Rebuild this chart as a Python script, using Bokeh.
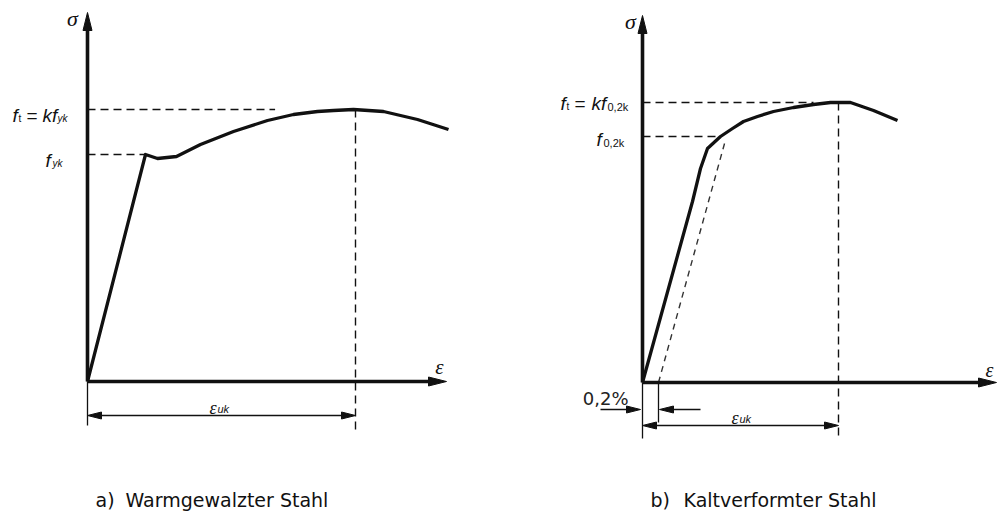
from math import hypot

from bokeh.core.properties import value
from bokeh.embed import file_html
from bokeh.layouts import row
from bokeh.models import Range1d
from bokeh.plotting import figure
from bokeh.resources import INLINE

# ---------------------------------------------------------------
# Schematic stress–strain diagrams of reinforcing steel
# (strain ε horizontal, stress σ vertical, schematic units)
# ---------------------------------------------------------------

# a) hot-rolled steel: elastic line, yield plateau, hardening, necking
eps_a = [0, 58, 70, 89, 113, 146, 180, 206, 230, 246, 266, 296, 330, 361]
sig_a = [0, 227, 223, 225, 237, 250, 261, 267, 270, 271, 272, 270, 262, 252]
f_yk_a = 227      # characteristic yield strength
f_t_a = 272       # tensile strength f_t = k f_yk
eps_uk_a = 268    # strain at maximum load

# b) cold-worked steel: no distinct yield point, 0.2 % proof stress
eps_b = [0, 50, 58, 65, 78, 90, 101, 115, 131, 151, 171, 188, 208, 231, 255]
sig_b = [0, 181, 214, 234, 246, 254, 261, 266, 271, 275, 278, 280, 280, 272, 262]
f_02k_b = 246     # 0.2 % proof stress
f_t_b = 280       # tensile strength f_t = k f_0,2k
eps_uk_b = 196    # strain at maximum load
eps_off_b = 16    # 0.2 % permanent strain offset

captions = [("a)", "Warmgewalzter Stahl"), ("b)", "Kaltverformter Stahl")]

INK = "#111111"
SANS = "DejaVu Sans"
ITAL = "Liberation Sans"
SERIF = "Liberation Serif"
H = 517


def panel(width, x_left, y_top):
    p = figure(width=width, height=H,
               x_range=Range1d(x_left, x_left + width),
               y_range=Range1d(y_top - H, y_top),
               output_backend="svg", toolbar_location=None,
               x_axis_location=None, y_axis_location=None,
               min_border=0)
    p.xgrid.visible = False
    p.ygrid.visible = False
    p.outline_line_color = None
    p.background_fill_color = "white"
    p.border_fill_color = "white"
    return p


def head(p, x0, y0, x1, y1, hl, hw, color=INK):
    """Filled triangular arrow head with its tip at (x1, y1)."""
    dx, dy = x1 - x0, y1 - y0
    n = hypot(dx, dy)
    ux, uy = dx / n, dy / n
    nx, ny = -uy, ux
    bx, by = x1 - ux * hl, y1 - uy * hl
    p.patch([x1, bx + nx * hw / 2, bx - nx * hw / 2],
            [y1, by + ny * hw / 2, by - ny * hw / 2],
            fill_color=color, line_color=color, line_width=1)


def arrow(p, x0, y0, x1, y1, lw, hl, hw, both=False, color=INK):
    dx, dy = x1 - x0, y1 - y0
    n = hypot(dx, dy)
    ux, uy = dx / n, dy / n
    sx0 = x0 + ux * hl * 0.6 if both else x0
    sy0 = y0 + uy * hl * 0.6 if both else y0
    p.line([sx0, x1 - ux * hl * 0.6], [sy0, y1 - uy * hl * 0.6],
           line_width=lw, line_color=color)
    head(p, x0, y0, x1, y1, hl, hw, color)
    if both:
        head(p, x1, y1, x0, y0, hl, hw, color)


def put(p, x, y, txt, size, font=SANS, style="normal", align="left",
        baseline="alphabetic", color=INK):
    p.text(x=[x], y=[y], text=[txt], text_font=value(font),
           text_font_size=value(f"{size}px"), text_font_style=style,
           text_align=align, text_baseline=baseline, text_color=color)


# ---------------- a) Warmgewalzter Stahl ----------------
pa = panel(500, -87, 381)

# horizontal guides to f_t and f_yk, vertical guide at ε_uk
pa.line([0, 0.7 * eps_uk_a], [f_t_a, f_t_a], line_color=INK,
        line_width=1.4, line_dash="8 5")
pa.line([0, eps_a[1]], [f_yk_a, f_yk_a], line_color=INK,
        line_width=1.4, line_dash="8 5")
pa.line([eps_uk_a, eps_uk_a], [f_t_a, -49], line_color=INK,
        line_width=1.4, line_dash="8 5")

# stress–strain curve
pa.line(eps_a, sig_a, line_color=INK, line_width=3.3, line_join="round")

# axes
arrow(pa, 0, 0, 0, 369, 3.6, 18, 9)
arrow(pa, 0, 0, 359, 0, 3.6, 18, 9)
put(pa, -15, 363, "σ", 22, SERIF, "italic", "center", "middle")
put(pa, 352, 15, "ε", 21, SERIF, "italic", "center", "middle")

# ε_uk dimension
pa.line([0, 0], [0, -44], line_color=INK, line_width=1.3)
arrow(pa, 0, -34, eps_uk_a, -34, 1.6, 14, 7, both=True)
put(pa, 122, -26, "ε", 18, SERIF, "italic")
put(pa, 130, -27, "uk", 11, ITAL, "italic")

# stress labels
put(pa, -75, 266, "f", 19, ITAL, "italic")
put(pa, -69, 263, "t", 10, ITAL)
put(pa, -61, 266, "=", 19, ITAL)
put(pa, -45, 266, "kf", 19, ITAL, "italic")
put(pa, -30, 263, "yk", 10, ITAL, "italic")
put(pa, -42, 221, "f", 19, ITAL, "italic")
put(pa, -35, 218, "yk", 10, ITAL, "italic")

# caption
put(pa, 8, -118, captions[0][0], 19, SANS)
put(pa, 38, -118, captions[0][1], 19, SANS)

# ---------------- b) Kaltverformter Stahl ----------------
pb = panel(497, -142, 382)

pb.line([0, eps_b[10]], [f_t_b, f_t_b], line_color=INK,
        line_width=1.4, line_dash="8 5")
pb.line([0, eps_b[4]], [f_02k_b, f_02k_b], line_color=INK,
        line_width=1.4, line_dash="8 5")
pb.line([eps_uk_b, eps_uk_b], [f_t_b, -53], line_color=INK,
        line_width=1.4, line_dash="8 5")

# 0.2 % offset line, parallel to the elastic branch
E_b = sig_b[1] / eps_b[1]
pb.line([eps_off_b, eps_off_b + (f_02k_b - 4) / E_b], [0, f_02k_b - 4],
        line_color="#333333", line_width=1.4, line_dash="6 5")

# stress–strain curve
pb.line(eps_b, sig_b, line_color=INK, line_width=3.3, line_join="round")

# axes
arrow(pb, 0, 0, 0, 367, 3.6, 18, 9)
arrow(pb, 0, 0, 354, 0, 3.6, 18, 9)
put(pb, -12, 361, "σ", 22, SERIF, "italic", "center", "middle")
put(pb, 347, 13, "ε", 20, SERIF, "italic", "center", "middle")

# 0.2 % offset marker
pb.line([eps_off_b, eps_off_b], [0, -40], line_color=INK, line_width=1.3)
arrow(pb, -42, -27, -2, -27, 1.6, 14, 7)
arrow(pb, 58, -27, eps_off_b + 1, -27, 1.6, 14, 7)
put(pb, -14, -16, "0,2%", 18, SANS, "normal", "right", color="#222222")

# ε_uk dimension
pb.line([0, 0], [0, -56], line_color=INK, line_width=1.3)
arrow(pb, 0, -43, eps_uk_b, -43, 1.6, 14, 7, both=True)
put(pb, 89, -35, "ε", 18, SERIF, "italic")
put(pb, 97, -36, "uk", 11, ITAL, "italic")

# stress labels
put(pb, -82, 279, "f", 19, ITAL, "italic")
put(pb, -76, 276, "t", 10, ITAL)
put(pb, -68, 279, "=", 19, ITAL)
put(pb, -51, 279, "kf", 19, ITAL, "italic")
put(pb, -35, 276, "0,2k", 11, ITAL)
put(pb, -46, 243, "f", 19, ITAL, "italic")
put(pb, -39, 240, "0,2k", 11, ITAL)

# caption
put(pb, 8, -117, captions[1][0], 19, SANS)
put(pb, 41, -117, captions[1][1], 19, SANS)

layout = row(pa, pb)
open("out.html", "w").write(file_html(layout, INLINE))
